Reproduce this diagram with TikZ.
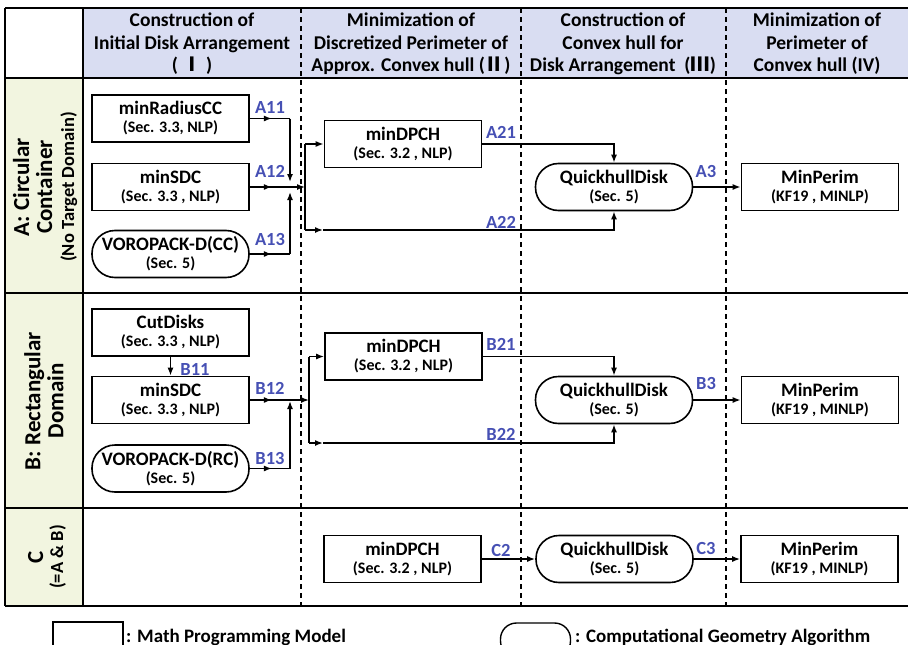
\documentclass[tikz,border=0pt]{standalone}
\usepackage{fontspec}
\setmainfont{Carlito}
\newfontfamily\cjk{Noto Sans CJK JP}
\usetikzlibrary{arrows.meta,decorations.markings}
\definecolor{lblue}{RGB}{70,80,180}
\definecolor{hdr}{RGB}{217,221,242}
\definecolor{lcol}{RGB}{242,245,224}
\newcommand\ntitle{\fontsize{19}{21}\selectfont\bfseries}
\newcommand\nsubt{\fontsize{16}{19}\selectfont\bfseries}
\begin{document}
\begin{tikzpicture}[x=1pt,y=-1pt,
  >={Latex[length=8pt,width=6pt]},
  box/.style={draw,line width=1.6pt,minimum width=157pt,minimum height=47pt,inner sep=0pt,align=center,font=\ntitle},
  rbox/.style={box,rounded corners=23pt},
  ln/.style={line width=1.5pt},
  marr/.style={postaction={decorate},decoration={markings,mark=at position 0.55 with {\arrow{>}}}},
  lab/.style={text=lblue,font=\fontsize{18.5}{18.5}\selectfont\bfseries,inner sep=0pt},
  hdrtxt/.style={align=center,inner sep=0pt,font=\fontsize{19.5}{22.5}\selectfont\bfseries},
  rowtxt/.style={align=center,inner sep=0pt,rotate=90,font=\fontsize{23}{23}\selectfont\bfseries},
  border/.style={line width=2.2pt},
  dashln/.style={line width=1.1pt,dash pattern=on 5pt off 4pt}
]
\clip (0,0) rectangle (908,645);
% table
\fill[hdr] (83,8) rectangle (908,78);
\fill[lcol] (5,78) rectangle (83,606);
\draw[dashln] (301,8) -- (301,606);
\draw[dashln] (521,8) -- (521,606);
\draw[dashln] (726,8) -- (726,606);
\draw[border] (5,8) -- (908,8);
\draw[border] (5,8) -- (5,606);
\draw[border] (83,8) -- (83,606);
\draw[border] (5,78) -- (908,78);
\draw[border] (5,293) -- (908,293);
\draw[border] (5,508) -- (908,508);
\draw[border] (5,606) -- (908,606);
% headers
\node[hdrtxt] (h1) at (192,44) {Construction of\\Initial Disk Arrangement\\( {\cjk Ⅰ} )};
\node[hdrtxt] (h2) at (411,44) {Minimization of\\Discretized Perimeter of\\Approx. Convex hull ({\cjk Ⅱ})};
\node[hdrtxt] (h3) at (623,44) {Construction of\\Convex hull for\\Disk Arrangement\ \ ({\cjk Ⅲ})};
\node[hdrtxt] (h4) at (817,44) {Minimization of\\Perimeter of\\Convex hull (IV)};
% row labels
\node[rowtxt] (rA) at (45,187) {A: Circular\\Container\\[-1pt]{\fontsize{18.5}{22}\selectfont\bfseries (No Target Domain)}};
\node[rowtxt] (rB) at (44,401) {B: Rectangular\\Domain};
\node[rowtxt] (rC) at (47,557) {C\\[-3pt]{\fontsize{18.5}{20}\selectfont\bfseries (=A \& B)}};
% row A nodes
\node[box] (a1) at (170.5,118.5) {minRadiusCC\\[-3pt]{\nsubt (Sec. 3.3, NLP)}};
\node[box] (a2) at (170.5,187) {minSDC\\[-3pt]{\nsubt (Sec. 3.3 , NLP)}};
\node[rbox] (a3) at (170.5,254) {VOROPACK-D(CC)\\[-3pt]{\nsubt (Sec. 5)}};
\node[box] (d1) at (403,144) {minDPCH\\[-3pt]{\nsubt (Sec. 3.2 , NLP)}};
\node[rbox] (q1) at (614,187) {QuickhullDisk\\[-3pt]{\nsubt (Sec. 5)}};
\node[box] (p1) at (820,187) {MinPerim\\[-3pt]{\nsubt (KF19 , MINLP)}};
% row B nodes
\node[box] (b1) at (170.5,332.5) {CutDisks\\[-3pt]{\nsubt (Sec. 3.3 , NLP)}};
\node[box] (b2) at (170.5,400) {minSDC\\[-3pt]{\nsubt (Sec. 3.3 , NLP)}};
\node[rbox] (b3) at (170.5,468.5) {VOROPACK-D(RC)\\[-3pt]{\nsubt (Sec. 5)}};
\node[box] (d2) at (403.5,356.5) {minDPCH\\[-3pt]{\nsubt (Sec. 3.2 , NLP)}};
\node[rbox] (q2) at (614,400) {QuickhullDisk\\[-3pt]{\nsubt (Sec. 5)}};
\node[box] (p2) at (820,400) {MinPerim\\[-3pt]{\nsubt (KF19 , MINLP)}};
% row C nodes
\node[box] (d3) at (402.5,559) {minDPCH\\[-3pt]{\nsubt (Sec. 3.2 , NLP)}};
\node[rbox] (q3) at (614.5,559) {QuickhullDisk\\[-3pt]{\nsubt (Sec. 5)}};
\node[box] (p3) at (819.5,559) {MinPerim\\[-3pt]{\nsubt (KF19 , MINLP)}};
% row A connectors
\coordinate (jA) at (290,187);
\coordinate (sA) at (305,187);
\coordinate (uA) at (305,144);
\coordinate (dA) at (305,230);
\coordinate (mA) at (323,230);
\draw[ln,marr] (a1.east) -- (a1.east -| jA);
\draw[ln,->,shorten >=5pt] (a1.east -| jA) -- (jA);
\draw[ln,marr] (a2.east) -- (jA);
\draw[ln,->] (jA) -- (sA);
\draw[ln,marr] (a3.east) -- (a3.east -| jA);
\draw[ln,->,shorten >=5pt] (a3.east -| jA) -- (jA);
\draw[ln] (uA) -- (dA);
\draw[ln,->] (uA) -- (d1.west);
\draw[ln,->] (dA) -- (mA);
\draw[ln,->] (mA) -| (q1.south);
\draw[ln,->] (d1.east) -| (q1.north);
\draw[ln,->] (q1.east) -- (p1.west);
% row B connectors
\coordinate (jB) at (290,400);
\coordinate (sB) at (309,400);
\coordinate (uB) at (309,356.5);
\coordinate (dB) at (309,443);
\coordinate (mB) at (323,443);
\draw[ln,->] (b1.south) -- (b2.north);
\draw[ln,marr] (b2.east) -- (jB);
\draw[ln,->] (jB) -- (sB);
\draw[ln,marr] (b3.east) -- (b3.east -| jB);
\draw[ln,->,shorten >=1pt] (b3.east -| jB) -- (jB);
\draw[ln] (uB) -- (dB);
\draw[ln,->] (uB) -- (d2.west);
\draw[ln,->] (dB) -- (mB);
\draw[ln,->] (mB) -| (q2.south);
\draw[ln,->] (d2.east) -| (q2.north);
\draw[ln,->] (q2.east) -- (p2.west);
% row C connectors
\draw[ln,->] (d3.east) -- (q3.west);
\draw[ln,->] (q3.east) -- (p3.west);
% labels
\node[lab] (lA11) at (270,107) {A11};
\node[lab] (lA12) at (270,171) {A12};
\node[lab] (lA13) at (270,239) {A13};
\node[lab] (lA21) at (501,132) {A21};
\node[lab] (lA22) at (501,222) {A22};
\node[lab] (lA3) at (706,171) {A3};
\node[lab] (lB11) at (195,369) {B11};
\node[lab] (lB12) at (270,388) {B12};
\node[lab] (lB13) at (270,458) {B13};
\node[lab] (lB21) at (501,344) {B21};
\node[lab] (lB22) at (501,434) {B22};
\node[lab] (lB3) at (706,383) {B3};
\node[lab] (lC2) at (501,550) {C2};
\node[lab] (lC3) at (706,548) {C3};
% legend
\node[draw,line width=1.4pt,minimum width=70pt,minimum height=34pt,inner sep=0pt] (lg1) at (88,639) {};
\node[draw,line width=1.4pt,minimum width=70pt,minimum height=34pt,inner sep=0pt,rounded corners=16pt] (lg2) at (535.5,640) {};
\node[anchor=base west,inner sep=0pt,font=\fontsize{19}{19}\selectfont\bfseries] (lt1) at (126,642) {: Math Programming Model};
\node[anchor=base west,inner sep=0pt,font=\fontsize{19}{19}\selectfont\bfseries] (lt2) at (575,642) {: Computational Geometry Algorithm};
\end{tikzpicture}
\end{document}
